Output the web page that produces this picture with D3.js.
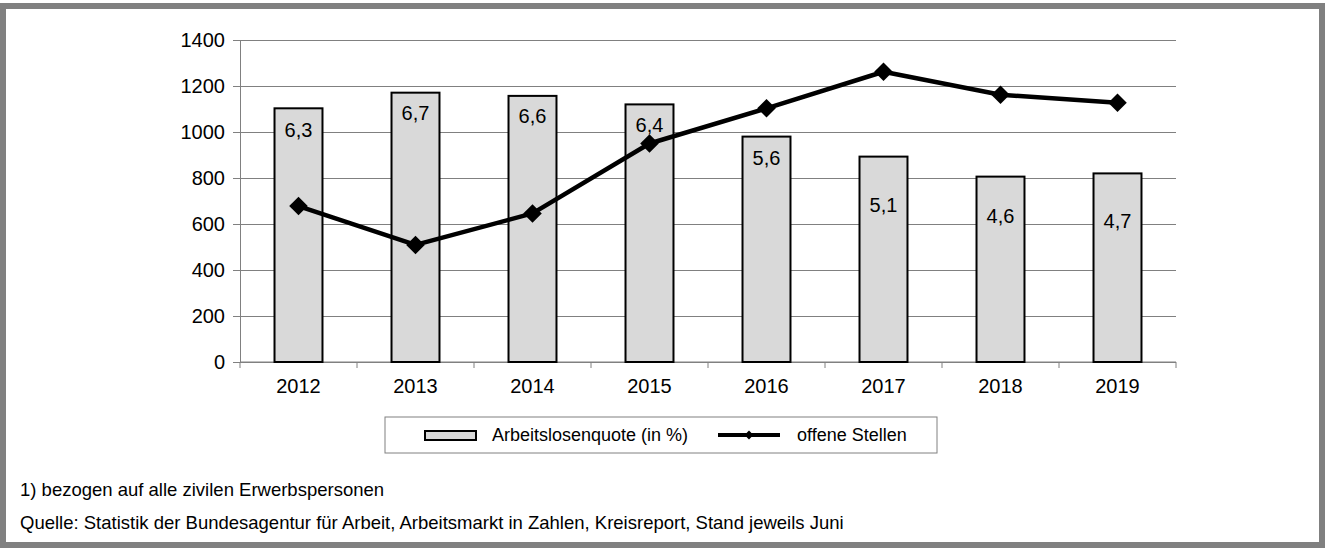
<!DOCTYPE html>
<meta charset="utf-8">
<head>
<title>Arbeitslosenquote und offene Stellen</title>
<style>
  body { margin: 0; background: #fff; }
  svg { display: block; font-family: "Liberation Sans", Arial, sans-serif; }
  .axis path, .axis line { stroke: #808080; }
  .axis text { fill: #000; }
</style>
</head>
<body>
<div id="chart"></div>

<script src="https://d3js.org/d3.v7.min.js"></script>
<script>

// data
var years = ["2012", "2013", "2014", "2015", "2016", "2017", "2018", "2019"];
var quote = [6.3, 6.7, 6.6, 6.4, 5.6, 5.1, 4.6, 4.7];          // Arbeitslosenquote (in %), bar labels
var barValues = [1103, 1171, 1157, 1120, 980, 893, 806, 820];   // bar heights on the left axis
var stellen = [678, 509, 646, 950, 1103, 1262, 1162, 1127];     // offene Stellen
var yTicks = [0, 200, 400, 600, 800, 1000, 1200, 1400];
var legendLabels = ["Arbeitslosenquote (in %)", "offene Stellen"];
var notes = ["1) bezogen auf alle zivilen Erwerbspersonen",
  "Quelle: Statistik der Bundesagentur für Arbeit, Arbeitsmarkt in Zahlen, Kreisreport, Stand jeweils Juni"];

// how far below the bar top each label sits (layout only)
var labelDrop = [21, 20, 20, 20, 21, 48, 39, 47];

var W = 1325, H = 548;
var margin = {top: 40, right: 149, bottom: 186, left: 240};
var width = W - margin.left - margin.right,
    height = H - margin.top - margin.bottom;

var svg = d3.select("#chart")
  .append("svg")
    .attr("width", W)
    .attr("height", H);

// grey frame
svg.append("rect")
  .attr("x", 3).attr("y", 6)
  .attr("width", W - 6).attr("height", H - 9)
  .attr("fill", "#fff")
  .attr("stroke", "#808080")
  .attr("stroke-width", 6);

var g = svg.append("g")
  .attr("transform", "translate(" + margin.left + "," + margin.top + ")");

var x = d3.scaleBand()
  .domain(years)
  .range([0, width])
  .paddingInner(0.59)
  .paddingOuter(0.295);

var y = d3.scaleLinear()
  .domain([0, 1400])
  .range([height, 0]);

// gridlines
g.append("g")
  .attr("class", "axis grid")
  .call(d3.axisLeft(y).tickValues(yTicks).tickSize(-width).tickFormat(""))
  .call(function(s) { s.select(".domain").remove(); });

// y axis
g.append("g")
  .attr("class", "axis")
  .call(d3.axisLeft(y).tickValues(yTicks).tickFormat(d3.format("d"))
    .tickSize(7).tickPadding(8).tickSizeOuter(0))
  .selectAll("text")
  .style("font-size", "20px");

// x axis line + ticks between the categories
var step = x.step();
var bounds = d3.range(years.length + 1).map(function(i) { return i * step; });
g.append("line")
  .attr("x1", 0).attr("x2", width)
  .attr("y1", height).attr("y2", height)
  .attr("stroke", "#808080");
g.selectAll(".xtick")
  .data(bounds)
  .enter()
  .append("line")
  .attr("x1", function(d) { return d; })
  .attr("x2", function(d) { return d; })
  .attr("y1", height)
  .attr("y2", height + 6)
  .attr("stroke", "#808080");

var xAxis = g.append("g")
  .attr("class", "axis")
  .attr("transform", "translate(0," + height + ")")
  .call(d3.axisBottom(x).tickSize(0).tickPadding(17));
xAxis.select(".domain").remove();
xAxis.selectAll("text").style("font-size", "20px");

// bars
g.selectAll(".bar")
  .data(years)
  .enter()
  .append("rect")
  .attr("x", function(d) { return x(d); })
  .attr("y", function(d, i) { return y(barValues[i]); })
  .attr("width", x.bandwidth())
  .attr("height", function(d, i) { return height - y(barValues[i]); })
  .attr("fill", "#d9d9d9")
  .attr("stroke", "#000")
  .attr("stroke-width", 2);

// bar labels
g.selectAll(".blabel")
  .data(years)
  .enter()
  .append("text")
  .attr("x", function(d) { return x(d) + x.bandwidth() / 2; })
  .attr("y", function(d, i) { return y(barValues[i]) + labelDrop[i]; })
  .attr("dy", "0.36em")
  .attr("text-anchor", "middle")
  .style("font-size", "20px")
  .text(function(d, i) { return String(quote[i]).replace(".", ","); });

// line
var cx = function(i) { return x(years[i]) + x.bandwidth() / 2; };
var line = d3.line()
  .x(function(d, i) { return cx(i); })
  .y(function(d) { return y(d); });

g.append("path")
  .datum(stellen)
  .attr("d", line)
  .attr("fill", "none")
  .attr("stroke", "#000")
  .attr("stroke-width", 4.5)
  .attr("stroke-linejoin", "round");

var diamond = d3.symbol().type(d3.symbolDiamond2).size(220);
g.selectAll(".marker")
  .data(stellen)
  .enter()
  .append("path")
  .attr("d", diamond)
  .attr("transform", function(d, i) { return "translate(" + cx(i) + "," + y(d) + ")"; })
  .attr("fill", "#000");

// legend
var lg = svg.append("g").attr("transform", "translate(385,417)");
lg.append("rect")
  .attr("width", 552).attr("height", 36)
  .attr("fill", "#fff")
  .attr("stroke", "#808080")
  .attr("stroke-width", 1);
lg.append("rect")
  .attr("x", 40).attr("y", 14).attr("width", 51).attr("height", 9)
  .attr("fill", "#d9d9d9").attr("stroke", "#000").attr("stroke-width", 2);
lg.append("text")
  .attr("x", 107).attr("y", 18).attr("dy", "0.36em")
  .style("font-size", "18px")
  .text(legendLabels[0]);
lg.append("line")
  .attr("x1", 333).attr("x2", 395).attr("y1", 18).attr("y2", 18)
  .attr("stroke", "#000").attr("stroke-width", 4);
lg.append("path")
  .attr("d", d3.symbol().type(d3.symbolDiamond2).size(50))
  .attr("transform", "translate(364,18)");
lg.append("text")
  .attr("x", 412).attr("y", 18).attr("dy", "0.36em")
  .style("font-size", "18px")
  .text(legendLabels[1]);

// footnotes
svg.selectAll(".note")
  .data(notes)
  .enter()
  .append("text")
  .attr("x", 20)
  .attr("y", function(d, i) { return 489 + i * 33; })
  .attr("dy", "0.36em")
  .style("font-size", "18.5px")
  .text(function(d) { return d; });

</script>
</body>
